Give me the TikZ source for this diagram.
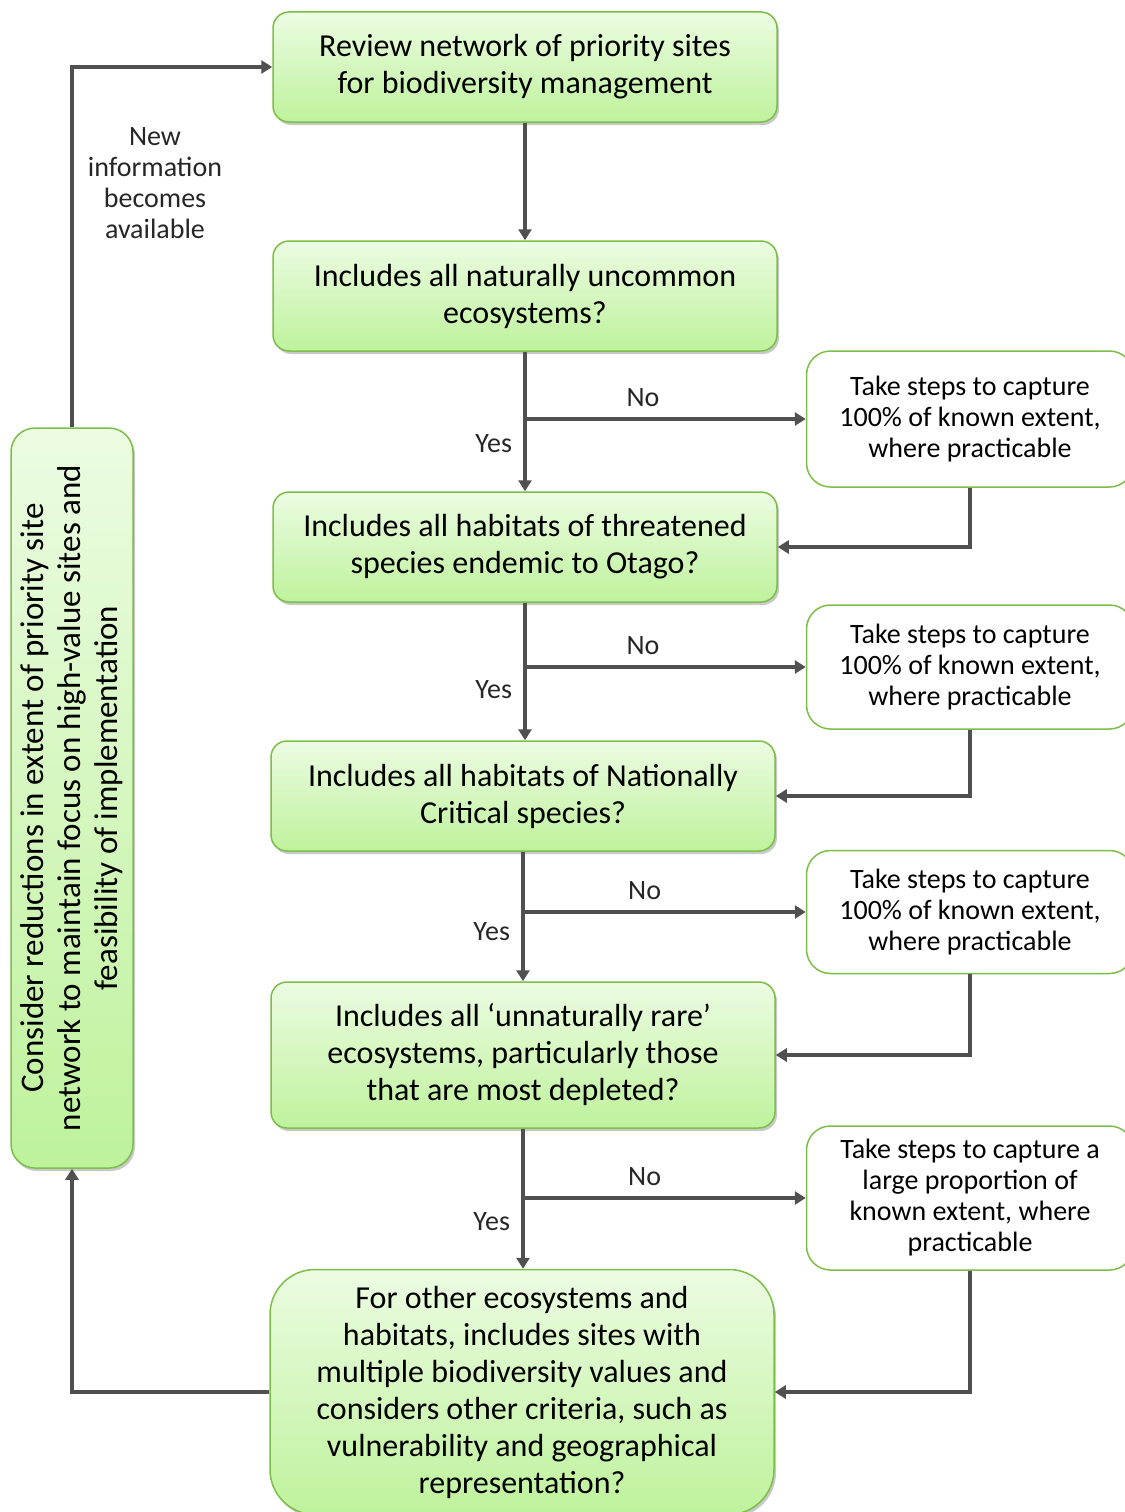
\documentclass[tikz,border=0pt]{standalone}
\usepackage{fontspec}
\setmainfont{Carlito}
\usetikzlibrary{arrows.meta,shadows,positioning,calc}

\definecolor{edgegreen}{RGB}{124,190,72}
\definecolor{gtop}{RGB}{236,252,226}
\definecolor{gbot}{RGB}{190,242,156}
\definecolor{linegray}{RGB}{80,80,80}

\tikzset{
  greenbox/.style={draw=edgegreen, line width=1.5pt, rounded corners=16pt,
    top color=gtop, bottom color=gbot, align=center,
    minimum width=504pt, minimum height=110pt, inner sep=0pt,
    font=\fontsize{32}{37}\selectfont,
    drop shadow={shadow xshift=2pt, shadow yshift=-3pt, opacity=.3, fill=black!70}},
  stepbox/.style={draw=edgegreen, line width=1.5pt, rounded corners=24pt,
    fill=white, align=center, minimum width=327pt, inner sep=0pt,
    font=\fontsize{28}{31}\selectfont},
  flow/.style={draw=linegray, line width=4pt, -{Triangle[length=11pt,width=13pt]}},
  lbl/.style={font=\fontsize{28}{31}\selectfont, text=black!85, inner sep=2pt}
}

\begin{document}
\begin{tikzpicture}[x=1pt, y=-1pt]
  \useasboundingbox (0,0) rectangle (1124,1512);

  % main column
  \node[greenbox] (review) at (525,67) {Review network of priority sites\\for biodiversity management};
  \node[greenbox] (uncommon) at (525,296) {Includes all naturally uncommon\\ecosystems?};
  \node[greenbox] (threat) at (525,547) {Includes all habitats of threatened\\species endemic to Otago?};
  \node[greenbox] (critical) at (523,796) {Includes all habitats of Nationally\\Critical species?};
  \node[greenbox, minimum height=146pt] (rare) at (523,1055) {Includes all `unnaturally rare'\\ecosystems, particularly those\\that are most depleted?};
  \node[greenbox, minimum height=245pt, rounded corners=45pt] (other) at (522,1392) {For other ecosystems and\\habitats, includes sites with\\multiple biodiversity values and\\considers other criteria, such as\\vulnerability and geographical\\representation?};

  % side box
  \node[greenbox, rotate=90, minimum width=740pt, minimum height=122pt, rounded corners=24pt,
    font=\fontsize{33}{37}\selectfont] (reduce) at (72,798)
    {Consider reductions in extent of priority site\\network to maintain focus on high-value sites and\\feasibility of implementation};

  % capture steps
  \node[stepbox, minimum height=136pt] (cap1) at (970,419) {Take steps to capture\\100\% of known extent,\\where practicable};
  \node[stepbox, minimum height=124pt] (cap2) at (970,667) {Take steps to capture\\100\% of known extent,\\where practicable};
  \node[stepbox, minimum height=123pt] (cap3) at (970,912) {Take steps to capture\\100\% of known extent,\\where practicable};
  \node[stepbox, minimum height=144pt] (cap4) at (970,1198) {Take steps to capture a\\large proportion of\\known extent, where\\practicable};

  \node[lbl, align=center] (newinfo) at (155,183) {New\\information\\becomes\\available};

  %
  \draw[flow] (review) -- (uncommon);
  \draw[flow] (uncommon) -- node[lbl, pos=.66, left=9pt] {Yes} (threat);
  \draw[flow] (uncommon.south |- cap1) -- node[lbl, pos=.42, above=8pt] {No} (cap1.west);
  \draw[flow] (cap1.south) |- (threat.east);

  \draw[flow] (threat) -- node[lbl, pos=.63, left=9pt] {Yes} (threat |- critical.north);
  \draw[flow] (threat.south |- cap2) -- node[lbl, pos=.42, above=8pt] {No} (cap2.west);
  \draw[flow] (cap2.south) |- (critical.east);

  \draw[flow] (critical) -- node[lbl, pos=.62, left=9pt] {Yes} (critical |- rare.north);
  \draw[flow] (critical.south |- cap3) -- node[lbl, pos=.43, above=8pt] {No} (cap3.west);
  \draw[flow] (cap3.south) |- (rare.east);

  \draw[flow] (rare) -- node[lbl, pos=.66, left=9pt] {Yes} (rare |- other.north);
  \draw[flow] (rare.south |- cap4) -- node[lbl, pos=.43, above=8pt] {No} (cap4.west);
  \draw[flow] (cap4.south) |- (other.east);

  \draw[flow] (other.west) -| (reduce.west);
  \draw[flow] (reduce.east) |- (review.west);
\end{tikzpicture}
\end{document}
